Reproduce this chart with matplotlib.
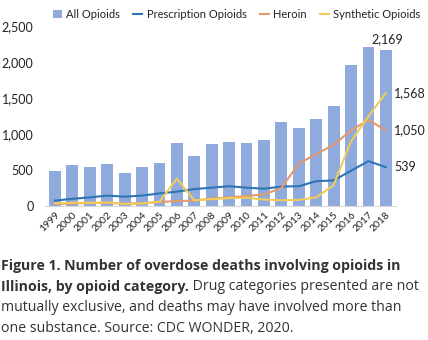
import matplotlib
matplotlib.use("Agg")
import matplotlib.pyplot as plt
from matplotlib.text import Annotation
import numpy as np

years = [str(y) for y in range(1999, 2019)]
all_opioids = [490, 565, 535, 578, 465, 540, 600, 880, 700, 855, 890, 870, 910, 1160, 1080, 1210, 1390, 1950, 2210, 2169]
prescription = [75, 100, 120, 145, 130, 145, 175, 200, 235, 255, 275, 255, 240, 270, 275, 345, 355, 490, 623, 539]
heroin = [30, 35, 40, 45, 30, 40, 55, 70, 75, 105, 120, 140, 160, 250, 590, 720, 850, 1050, 1195, 1050]
synthetic = [40, 45, 45, 50, 30, 35, 60, 380, 80, 95, 110, 115, 90, 80, 85, 120, 290, 900, 1245, 1568]
yticks = [0, 500, 1000, 1500, 2000, 2500]

c_bar = "#8FAADC"
c_rx = "#2E75B6"
c_her = "#E39A6C"
c_syn = "#F2CC5A"
txt = "#222222"

fig = plt.figure(figsize=(4.28, 3.40), dpi=100)
ax = fig.add_axes([0.104, 0.394, 0.822, 0.53])
x = np.arange(len(years))
hb = ax.bar(x, all_opioids, width=0.68, color=c_bar, label="All Opioids", zorder=1)
h1, = ax.plot(x, prescription, color=c_rx, lw=1.5, label="Prescription Opioids", zorder=3)
h2, = ax.plot(x, heroin, color=c_her, lw=1.5, label="Heroin", zorder=3)
h3, = ax.plot(x, synthetic, color=c_syn, lw=1.5, label="Synthetic Opioids", zorder=3)

ax.set_xlim(-0.6, 19.6)
ax.set_ylim(0, 2500)
ax.set_yticks(yticks)
ax.set_yticklabels([f"{v:,}" for v in yticks], fontfamily="Lato", fontsize=9, color=txt)
ax.set_xticks(x)
ax.set_xticklabels(years, rotation=45, ha="right", rotation_mode="anchor",
                   fontfamily="Lato", fontsize=7.5, color=txt)
ax.tick_params(axis="both", length=0, pad=3)
ax.tick_params(axis="y", pad=8)
for s in ["top", "right", "left"]:
    ax.spines[s].set_visible(False)
ax.spines["bottom"].set_color("#D9D9D9")
ax.spines["bottom"].set_linewidth(0.8)

last = len(years) - 1
ax.annotate(f"{all_opioids[-1]:,}", xy=(last, all_opioids[-1]), xytext=(1, 3),
            textcoords="offset points", ha="center", va="bottom",
            fontfamily="Lato", fontsize=9, color=txt)
for arr in (synthetic, heroin, prescription):
    ax.annotate(f"{arr[-1]:,}", xy=(last, arr[-1]), xytext=(6, 0),
                textcoords="offset points", ha="left", va="center",
                fontfamily="Lato", fontsize=9, color=txt)

leg = fig.legend(handles=[hb, h1, h2, h3], loc="center", bbox_to_anchor=(0.553, 0.958), ncol=4,
                 frameon=False, prop={"family": "Lato", "size": 8.0}, handlelength=0.8,
                 handleheight=0.8, handletextpad=0.4, columnspacing=1.2, borderaxespad=0,
                 borderpad=0)
for t in leg.get_texts():
    t.set_color(txt)

# caption
cap_col = "#333333"
fs = 10.2
cf = {"family": "Open Sans", "size": fs, "color": cap_col}
ys = [0.197, 0.135, 0.073, 0.011]
fig.text(0.003, ys[0], "Figure 1. Number of overdose deaths involving opioids in",
         fontweight="bold", va="bottom", **cf)
tb = fig.text(0.003, ys[1], "Illinois, by opioid category.", fontweight="bold", va="bottom", **cf)
fig.add_artist(Annotation(" Drug categories presented are not", xy=(1, 0), xycoords=tb,
                          va="bottom", ha="left", fontfamily="Open Sans",
                          fontsize=fs, color=cap_col))
fig.text(0.003, ys[2], "mutually exclusive, and deaths may have involved more than", va="bottom", **cf)
fig.text(0.003, ys[3], "one substance. Source: CDC WONDER, 2020.", va="bottom", **cf)

fig.savefig("out.png", dpi=100)
